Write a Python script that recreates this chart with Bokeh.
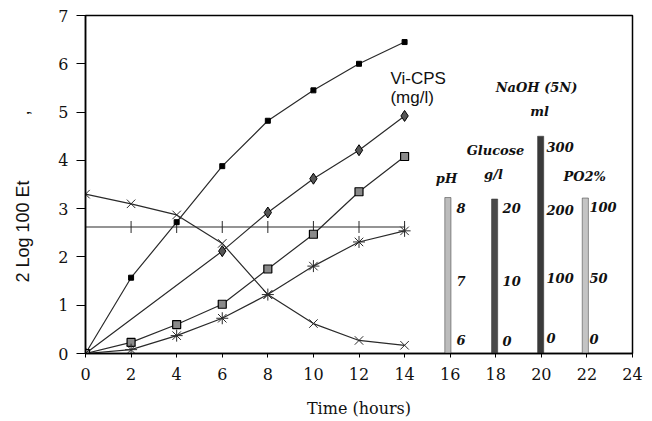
import numpy as np
from bokeh.plotting import figure
from bokeh.models import Range1d, Title, FixedTicker
from bokeh.core.properties import value
from bokeh.embed import file_html
from bokeh.resources import INLINE

# ---- data ----
hours = [0, 2, 4, 6, 8, 10, 12, 14]
vicps = [0, 1.57, 2.72, 3.88, 4.82, 5.45, 6.0, 6.45]          # small black squares
diam_x = [0, 6, 8, 10, 12, 14]
diam_y = [0, 2.12, 2.92, 3.62, 4.21, 4.92]                     # diamonds
gsq = [0, 0.23, 0.60, 1.02, 1.75, 2.47, 3.35, 4.08]            # grey squares
ast = [0, 0.08, 0.37, 0.73, 1.22, 1.81, 2.31, 2.54]            # asterisks
xs_y = [3.30, 3.10, 2.87, 2.28, 1.22, 0.62, 0.27, 0.17]        # x markers
flat = [2.62] * 8                                               # flat line with ticks

bar_x = [15.9, 17.95, 19.97, 21.93]
bar_top = [3.23, 3.20, 4.50, 3.22]
bar_colors = ["#bcbcbc", "#4a4a4a", "#3a3a3a", "#c4c4c4"]

scale_titles = ["pH", "Glucose", "g/l", "NaOH (5N)", "ml", "PO2%"]
scale_title_x = [15.84, 17.99, 17.90, 19.79, 19.92, 21.90]
scale_title_y = [3.62, 4.20, 3.71, 5.51, 5.01, 3.67]

scale_num_text = ["8", "7", "6", "20", "10", "0", "300", "200", "100", "0", "100", "50", "0"]
scale_num_x = [16.28] * 3 + [18.30] * 3 + [20.23] * 4 + [22.11] * 3
scale_num_y = [3.02, 1.51, 0.27, 3.02, 1.51, 0.25, 4.27, 2.98, 1.57, 0.33, 3.04, 1.57, 0.31]

x_ticks = list(range(0, 25, 2))
y_ticks = list(range(0, 8))

y_title = "2 Log 100 Et" + "\u00a0" * 13 + ","

LC = "#2a2a2a"

p = figure(width=652, height=421, output_backend="svg", toolbar_location=None,
           x_range=Range1d(0, 24), y_range=Range1d(0, 7),
           min_border_left=85, min_border_right=20, min_border_top=15, min_border_bottom=68)
p.xgrid.visible = False
p.ygrid.visible = False
p.outline_line_color = "black"
p.outline_line_width = 1.5
p.background_fill_color = "white"
p.border_fill_color = "white"

for ax in (p.xaxis, p.yaxis):
    ax.axis_line_color = "black"
    ax.axis_line_width = 1.5
    ax.major_tick_line_color = "black"
    ax.minor_tick_line_color = None
    ax.major_tick_in = 0
    ax.major_label_text_font = "DejaVu Serif"
    ax.major_label_text_font_size = "16px"
    ax.major_label_text_color = "#111111"

p.xaxis.ticker = FixedTicker(ticks=x_ticks)
p.yaxis.ticker = FixedTicker(ticks=y_ticks)
p.xaxis.major_tick_out = 4
p.xaxis.major_label_standoff = 10
p.yaxis.major_tick_out = 9
p.yaxis.major_label_standoff = 8
p.xaxis.axis_label = "Time (hours)"
p.xaxis.axis_label_text_font = "DejaVu Serif"
p.xaxis.axis_label_text_font_size = "16px"
p.xaxis.axis_label_text_font_style = "normal"
p.xaxis.axis_label_text_color = "#111111"
p.xaxis.axis_label_standoff = 16

# spacer between the y axis and its rotated title
p.add_layout(Title(text="\u00a0", text_font_size="1px", standoff=18), "left")
p.add_layout(Title(text=y_title, align="left", offset=71, standoff=4,
                   text_font="Liberation Sans", text_font_size="18px",
                   text_font_style="normal", text_color="#111111"), "left")

# bars
p.vbar(x=bar_x, top=bar_top, bottom=0, width=0.27, fill_color=bar_colors,
       line_color="#333333", line_width=0.5)

# lines
p.line(hours, flat, line_color=LC, line_width=1.2)
p.scatter(hours, flat, marker="dash", angle=np.pi / 2, size=12, line_color=LC, line_width=1)

p.line(hours, vicps, line_color=LC, line_width=1.2)
p.scatter(hours, vicps, marker="square", size=5, fill_color="black", line_color="black")

p.line(diam_x, diam_y, line_color=LC, line_width=1.2)
p.scatter(diam_x, diam_y, marker="diamond", size=11, fill_color="#555555", line_color="black")

p.line(hours, gsq, line_color=LC, line_width=1.2)
p.scatter(hours, gsq, marker="square", size=8, fill_color="#8a8a8a", line_color="black", line_width=1.2)

p.line(hours, ast, line_color=LC, line_width=1.2)
p.scatter(hours, ast, marker="asterisk", size=12, line_color=LC, line_width=1)

p.line(hours, xs_y, line_color=LC, line_width=1.2)
p.scatter(hours, xs_y, marker="x", size=12, line_color=LC, line_width=1)

# labels
p.text(x=[13.38, 13.38], y=[5.69, 5.30], text=["Vi-CPS", "(mg/l)"],
       text_font=value("Liberation Sans"), text_font_size="17px",
       text_baseline="middle", text_align="left", text_color="#111111")

p.text(x=scale_title_x, y=scale_title_y, text=scale_titles,
       text_font=value("DejaVu Serif"), text_font_size="13px", text_font_style="bold italic",
       text_baseline="middle", text_align="center", text_color="#111111")

p.text(x=scale_num_x, y=scale_num_y, text=scale_num_text,
       text_font=value("DejaVu Serif"), text_font_size="13px", text_font_style="bold italic",
       text_baseline="middle", text_align="left", text_color="#111111")

open("out.html", "w").write(file_html(p, INLINE))
